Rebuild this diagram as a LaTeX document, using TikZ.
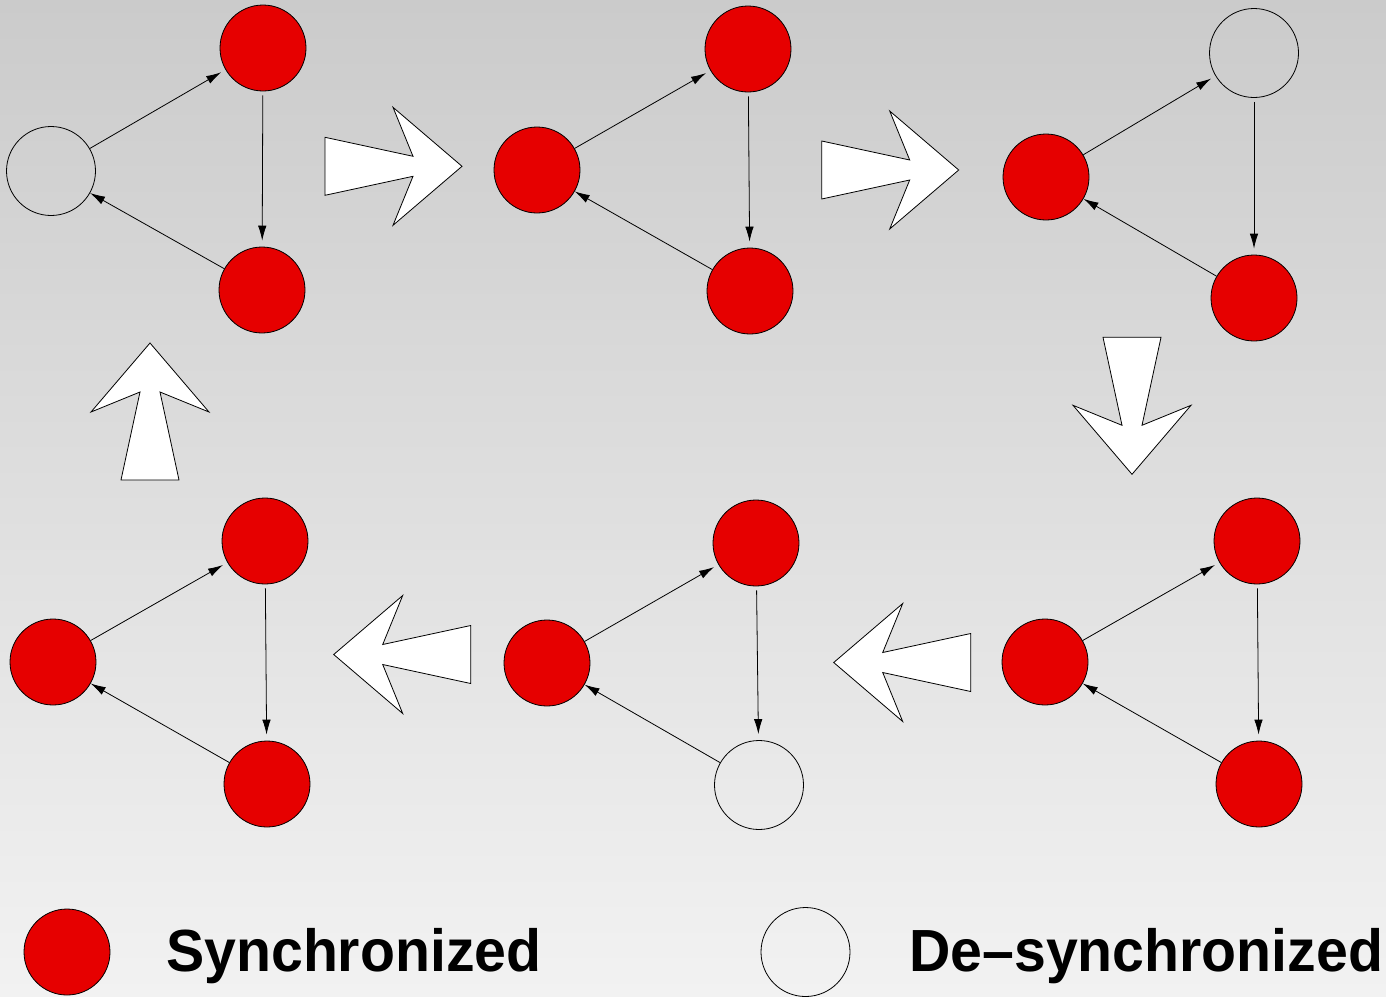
\documentclass[tikz,border=0pt]{standalone}
\usepackage{fontspec}
\usepackage{graphicx}
\setmainfont{Liberation Sans}
\usetikzlibrary{arrows.meta}
\definecolor{syncred}{RGB}{230,0,0}
\definecolor{bgtop}{RGB}{203,203,203}
\definecolor{bgbot}{RGB}{242,242,242}
\begin{document}
\begin{tikzpicture}[x=1pt,y=-1pt,
  sync/.style={circle, draw=black, fill=syncred, line width=0.8pt, minimum size=86pt, inner sep=0pt},
  desync/.style={circle, draw=black, line width=0.8pt, minimum size=89pt, inner sep=0pt},
  link/.style={-{Latex[length=15pt,width=8.5pt]}, line width=0.8pt},
  legendtext/.style={anchor=base west, inner sep=0pt, font=\fontsize{59.5}{59.5}\selectfont\bfseries},
  fatarrow/.pic={\draw[fill=white, line width=0.8pt, line join=miter]
     (0,-29) -- (88,-10) -- (68,-59) -- (137,0) -- (68,59) -- (88,10) -- (0,29) -- cycle;}
]
\useasboundingbox (0,0) rectangle (1386,996);
\fill[top color=bgtop, bottom color=bgbot] (0,0) rectangle (1386,996);

% panel 1
\node[desync] (p1a) at (51,171) {};
\node[sync] (p1b) at (263,48) {};
\node[sync] (p1c) at (262,290) {};
% panel 2
\node[sync] (p2a) at (537,170) {};
\node[sync] (p2b) at (748,49) {};
\node[sync] (p2c) at (750,291) {};
% panel 3
\node[sync] (p3a) at (1046,177) {};
\node[desync] (p3b) at (1254,53) {};
\node[sync] (p3c) at (1254,298) {};
% panel 4
\node[sync] (p4a) at (1045,662) {};
\node[sync] (p4b) at (1257,541) {};
\node[sync] (p4c) at (1259,784) {};
% panel 5
\node[sync] (p5a) at (547,663) {};
\node[sync] (p5b) at (756,543) {};
\node[desync] (p5c) at (759,785) {};
% panel 6
\node[sync] (p6a) at (53,662) {};
\node[sync] (p6b) at (265,541) {};
\node[sync] (p6c) at (267,784) {};

\foreach \p in {p1,p2,p3,p4,p5,p6}{
  \draw[link, shorten >=5pt] (\p a) -- (\p b);
  \draw[link, shorten <=4pt, shorten >=6pt] (\p b) -- (\p c);
  \draw[link] (\p c) -- (\p a);
}

% big transition arrows
\pic[shift={(325,166.3)}] {fatarrow};
\pic[shift={(821.7,170)}] {fatarrow};
\pic[shift={(1132,337.3)}, rotate=-90] {fatarrow};
\pic[shift={(970.7,662.5)}, rotate=180] {fatarrow};
\pic[shift={(470.7,654.5)}, rotate=180] {fatarrow};
\pic[shift={(150,480)}, rotate=90] {fatarrow};

% legend
\node[sync] (legS) at (67,952) {};
\node[desync] (legD) at (805.5,952) {};
\node[legendtext] (legSt) at (166,971.7) {\scalebox{0.962}[1]{Synchronized}};
\node[legendtext] (legDt) at (909,971.7) {\scalebox{0.962}[1]{De–synchronized}};
\end{tikzpicture}
\end{document}
